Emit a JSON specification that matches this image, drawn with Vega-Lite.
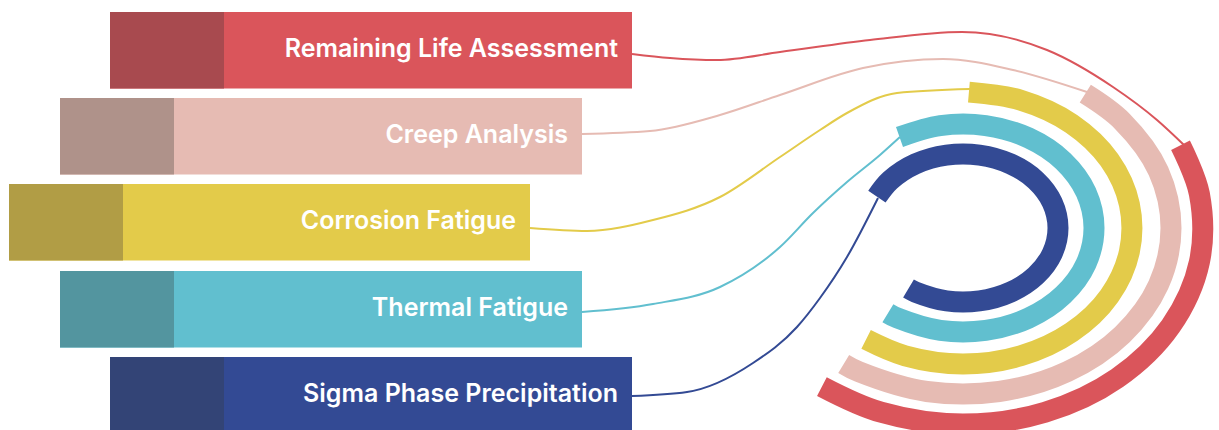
{
  "$schema": "https://vega.github.io/schema/vega-lite/v6.json",
  "width": 1219,
  "height": 430,
  "autosize": {"type": "none"},
  "padding": 0,
  "background": "white",
  "config": {"view": {"stroke": null}},
  "datasets": {
    "bars": [
      {"name": "Remaining Life Assessment", "start": 110, "split": 224, "end": 632, "top": 12, "bottom": 88.5},
      {"name": "Creep Analysis", "start": 60, "split": 174, "end": 582, "top": 98, "bottom": 174.5},
      {"name": "Corrosion Fatigue", "start": 9, "split": 123, "end": 530, "top": 184, "bottom": 260.5},
      {"name": "Thermal Fatigue", "start": 60, "split": 174, "end": 582, "top": 271, "bottom": 347.5},
      {"name": "Sigma Phase Precipitation", "start": 110, "split": 224, "end": 632, "top": 357, "bottom": 432}
    ],
    "links": [
      {"name": "Remaining Life Assessment", "i": 0, "x": 632, "y": 54},
      {"name": "Remaining Life Assessment", "i": 1, "x": 670, "y": 58},
      {"name": "Remaining Life Assessment", "i": 2, "x": 717, "y": 60},
      {"name": "Remaining Life Assessment", "i": 3, "x": 780, "y": 52},
      {"name": "Remaining Life Assessment", "i": 4, "x": 870, "y": 40},
      {"name": "Remaining Life Assessment", "i": 5, "x": 962, "y": 32},
      {"name": "Remaining Life Assessment", "i": 6, "x": 1047, "y": 50},
      {"name": "Remaining Life Assessment", "i": 7, "x": 1113, "y": 87},
      {"name": "Remaining Life Assessment", "i": 8, "x": 1157, "y": 120},
      {"name": "Remaining Life Assessment", "i": 9, "x": 1184, "y": 145},
      {"name": "Creep Analysis", "i": 0, "x": 582, "y": 134},
      {"name": "Creep Analysis", "i": 1, "x": 650, "y": 131},
      {"name": "Creep Analysis", "i": 2, "x": 720, "y": 115},
      {"name": "Creep Analysis", "i": 3, "x": 780, "y": 95},
      {"name": "Creep Analysis", "i": 4, "x": 863, "y": 68},
      {"name": "Creep Analysis", "i": 5, "x": 943, "y": 59},
      {"name": "Creep Analysis", "i": 6, "x": 1013, "y": 70},
      {"name": "Creep Analysis", "i": 7, "x": 1087, "y": 92},
      {"name": "Corrosion Fatigue", "i": 0, "x": 530, "y": 228},
      {"name": "Corrosion Fatigue", "i": 1, "x": 587, "y": 231},
      {"name": "Corrosion Fatigue", "i": 2, "x": 653, "y": 220},
      {"name": "Corrosion Fatigue", "i": 3, "x": 720, "y": 197},
      {"name": "Corrosion Fatigue", "i": 4, "x": 780, "y": 157},
      {"name": "Corrosion Fatigue", "i": 5, "x": 820, "y": 130},
      {"name": "Corrosion Fatigue", "i": 6, "x": 847, "y": 113},
      {"name": "Corrosion Fatigue", "i": 7, "x": 897, "y": 93},
      {"name": "Corrosion Fatigue", "i": 8, "x": 970, "y": 89},
      {"name": "Thermal Fatigue", "i": 0, "x": 582, "y": 312},
      {"name": "Thermal Fatigue", "i": 1, "x": 653, "y": 304},
      {"name": "Thermal Fatigue", "i": 2, "x": 720, "y": 287},
      {"name": "Thermal Fatigue", "i": 3, "x": 780, "y": 247},
      {"name": "Thermal Fatigue", "i": 4, "x": 813, "y": 213},
      {"name": "Thermal Fatigue", "i": 5, "x": 847, "y": 182},
      {"name": "Thermal Fatigue", "i": 6, "x": 880, "y": 155},
      {"name": "Thermal Fatigue", "i": 7, "x": 900, "y": 137},
      {"name": "Sigma Phase Precipitation", "i": 0, "x": 632, "y": 396},
      {"name": "Sigma Phase Precipitation", "i": 1, "x": 687, "y": 392},
      {"name": "Sigma Phase Precipitation", "i": 2, "x": 753, "y": 363},
      {"name": "Sigma Phase Precipitation", "i": 3, "x": 797, "y": 327},
      {"name": "Sigma Phase Precipitation", "i": 4, "x": 820, "y": 298},
      {"name": "Sigma Phase Precipitation", "i": 5, "x": 847, "y": 257},
      {"name": "Sigma Phase Precipitation", "i": 6, "x": 878, "y": 198}
    ],
    "arcs": [
      {"name": "Sigma Phase Precipitation", "i": 0, "x": 876.9, "y": 196.7},
      {"name": "Sigma Phase Precipitation", "i": 1, "x": 890.2, "y": 180.4},
      {"name": "Sigma Phase Precipitation", "i": 2, "x": 915.5, "y": 163.9},
      {"name": "Sigma Phase Precipitation", "i": 3, "x": 946.5, "y": 155.1},
      {"name": "Sigma Phase Precipitation", "i": 4, "x": 979.5, "y": 155.1},
      {"name": "Sigma Phase Precipitation", "i": 5, "x": 1010.5, "y": 163.9},
      {"name": "Sigma Phase Precipitation", "i": 6, "x": 1035.8, "y": 180.4},
      {"name": "Sigma Phase Precipitation", "i": 7, "x": 1052.3, "y": 202.7},
      {"name": "Sigma Phase Precipitation", "i": 8, "x": 1058, "y": 228},
      {"name": "Sigma Phase Precipitation", "i": 9, "x": 1052.3, "y": 253.3},
      {"name": "Sigma Phase Precipitation", "i": 10, "x": 1035.8, "y": 275.6},
      {"name": "Sigma Phase Precipitation", "i": 11, "x": 1010.5, "y": 292.1},
      {"name": "Sigma Phase Precipitation", "i": 12, "x": 979.5, "y": 300.9},
      {"name": "Sigma Phase Precipitation", "i": 13, "x": 946.5, "y": 300.9},
      {"name": "Sigma Phase Precipitation", "i": 14, "x": 915.5, "y": 292.1},
      {"name": "Sigma Phase Precipitation", "i": 15, "x": 908.5, "y": 288.6},
      {"name": "Thermal Fatigue", "i": 0, "x": 899.5, "y": 137.0},
      {"name": "Thermal Fatigue", "i": 1, "x": 940.3, "y": 125.6},
      {"name": "Thermal Fatigue", "i": 2, "x": 985.7, "y": 125.6},
      {"name": "Thermal Fatigue", "i": 3, "x": 1028.5, "y": 137.9},
      {"name": "Thermal Fatigue", "i": 4, "x": 1063.3, "y": 161.1},
      {"name": "Thermal Fatigue", "i": 5, "x": 1086.1, "y": 192.4},
      {"name": "Thermal Fatigue", "i": 6, "x": 1094, "y": 228},
      {"name": "Thermal Fatigue", "i": 7, "x": 1086.1, "y": 263.6},
      {"name": "Thermal Fatigue", "i": 8, "x": 1063.3, "y": 294.9},
      {"name": "Thermal Fatigue", "i": 9, "x": 1028.5, "y": 318.1},
      {"name": "Thermal Fatigue", "i": 10, "x": 985.7, "y": 330.4},
      {"name": "Thermal Fatigue", "i": 11, "x": 940.3, "y": 330.4},
      {"name": "Thermal Fatigue", "i": 12, "x": 897.5, "y": 318.1},
      {"name": "Thermal Fatigue", "i": 13, "x": 887.9, "y": 313.2},
      {"name": "Corrosion Fatigue", "i": 0, "x": 968.9, "y": 92.1},
      {"name": "Corrosion Fatigue", "i": 1, "x": 1020.8, "y": 100.2},
      {"name": "Corrosion Fatigue", "i": 2, "x": 1071.6, "y": 123.8},
      {"name": "Corrosion Fatigue", "i": 3, "x": 1109.4, "y": 160},
      {"name": "Corrosion Fatigue", "i": 4, "x": 1129.4, "y": 204.4},
      {"name": "Corrosion Fatigue", "i": 5, "x": 1129.4, "y": 251.6},
      {"name": "Corrosion Fatigue", "i": 6, "x": 1109.4, "y": 296},
      {"name": "Corrosion Fatigue", "i": 7, "x": 1071.6, "y": 332.2},
      {"name": "Corrosion Fatigue", "i": 8, "x": 1020.8, "y": 355.8},
      {"name": "Corrosion Fatigue", "i": 9, "x": 963, "y": 364},
      {"name": "Corrosion Fatigue", "i": 10, "x": 905.2, "y": 355.8},
      {"name": "Corrosion Fatigue", "i": 11, "x": 866.1, "y": 339.4},
      {"name": "Creep Analysis", "i": 0, "x": 1085.3, "y": 93.7},
      {"name": "Creep Analysis", "i": 1, "x": 1122.3, "y": 121.3},
      {"name": "Creep Analysis", "i": 2, "x": 1158.5, "y": 171.2},
      {"name": "Creep Analysis", "i": 3, "x": 1171, "y": 228},
      {"name": "Creep Analysis", "i": 4, "x": 1158.5, "y": 284.8},
      {"name": "Creep Analysis", "i": 5, "x": 1122.3, "y": 334.7},
      {"name": "Creep Analysis", "i": 6, "x": 1067, "y": 371.8},
      {"name": "Creep Analysis", "i": 7, "x": 999.1, "y": 391.5},
      {"name": "Creep Analysis", "i": 8, "x": 926.9, "y": 391.5},
      {"name": "Creep Analysis", "i": 9, "x": 859, "y": 371.8},
      {"name": "Creep Analysis", "i": 10, "x": 843.7, "y": 364},
      {"name": "Remaining Life Assessment", "i": 0, "x": 1180.5, "y": 145.2},
      {"name": "Remaining Life Assessment", "i": 1, "x": 1199.4, "y": 194},
      {"name": "Remaining Life Assessment", "i": 2, "x": 1199.4, "y": 262},
      {"name": "Remaining Life Assessment", "i": 3, "x": 1170.8, "y": 326},
      {"name": "Remaining Life Assessment", "i": 4, "x": 1117.3, "y": 378.1},
      {"name": "Remaining Life Assessment", "i": 5, "x": 1045.1, "y": 412.2},
      {"name": "Remaining Life Assessment", "i": 6, "x": 963, "y": 424},
      {"name": "Remaining Life Assessment", "i": 7, "x": 880.9, "y": 412.2},
      {"name": "Remaining Life Assessment", "i": 8, "x": 821.9, "y": 386.6}
    ]
  },
  "layer": [
    {
      "data": {"name": "bars"},
      "mark": {"type": "rect", "clip": true},
      "encoding": {
        "x": {"field": "start", "type": "quantitative", "scale": {"domain": [0, 1219], "nice": false, "zero": false}, "axis": null},
        "x2": {"field": "end"},
        "y": {"field": "top", "type": "quantitative", "scale": {"domain": [0, 430], "nice": false, "zero": false, "reverse": true}, "axis": null},
        "y2": {"field": "bottom"},
        "color": {"field": "name", "type": "nominal", "legend": null,
          "scale": {"domain": ["Remaining Life Assessment", "Creep Analysis", "Corrosion Fatigue", "Thermal Fatigue", "Sigma Phase Precipitation"],
                    "range": ["#DA555B", "#E6BBB3", "#E3CB4A", "#61BFCF", "#334A94"]}}
      }
    },
    {
      "data": {"name": "bars"},
      "mark": {"type": "rect", "clip": true},
      "encoding": {
        "x": {"field": "start", "type": "quantitative"},
        "x2": {"field": "split"},
        "y": {"field": "top", "type": "quantitative"},
        "y2": {"field": "bottom"},
        "fill": {"field": "name", "type": "nominal", "legend": null,
          "scale": {"domain": ["Remaining Life Assessment", "Creep Analysis", "Corrosion Fatigue", "Thermal Fatigue", "Sigma Phase Precipitation"],
                    "range": ["#A84A4F", "#AF928A", "#B19D45", "#53959F", "#334476"]}}
      }
    },
    {
      "data": {"name": "bars"},
      "transform": [{"calculate": "(datum.top + datum.bottom) / 2", "as": "mid"}],
      "mark": {"type": "text", "align": "right", "baseline": "middle", "dx": -14, "dy": -1, "font": "Inter", "fontWeight": 600, "fontSize": 25, "letterSpacing": -0.2, "fill": "white"},
      "encoding": {
        "x": {"field": "end", "type": "quantitative"},
        "y": {"field": "mid", "type": "quantitative"},
        "text": {"field": "name"}
      }
    },
    {
      "data": {"name": "links"},
      "mark": {"type": "line", "interpolate": "monotone", "strokeWidth": 2, "clip": true},
      "encoding": {
        "x": {"field": "x", "type": "quantitative"},
        "y": {"field": "y", "type": "quantitative"},
        "order": {"field": "i", "type": "quantitative"},
        "detail": {"field": "name"},
        "color": {"field": "name", "type": "nominal", "legend": null}
      }
    },
    {
      "data": {"name": "arcs"},
      "mark": {"type": "line", "interpolate": "catmull-rom", "strokeWidth": 21, "strokeCap": "butt", "clip": true},
      "encoding": {
        "x": {"field": "x", "type": "quantitative"},
        "y": {"field": "y", "type": "quantitative"},
        "order": {"field": "i", "type": "quantitative"},
        "detail": {"field": "name"},
        "color": {"field": "name", "type": "nominal", "legend": null}
      }
    }
  ]
}
